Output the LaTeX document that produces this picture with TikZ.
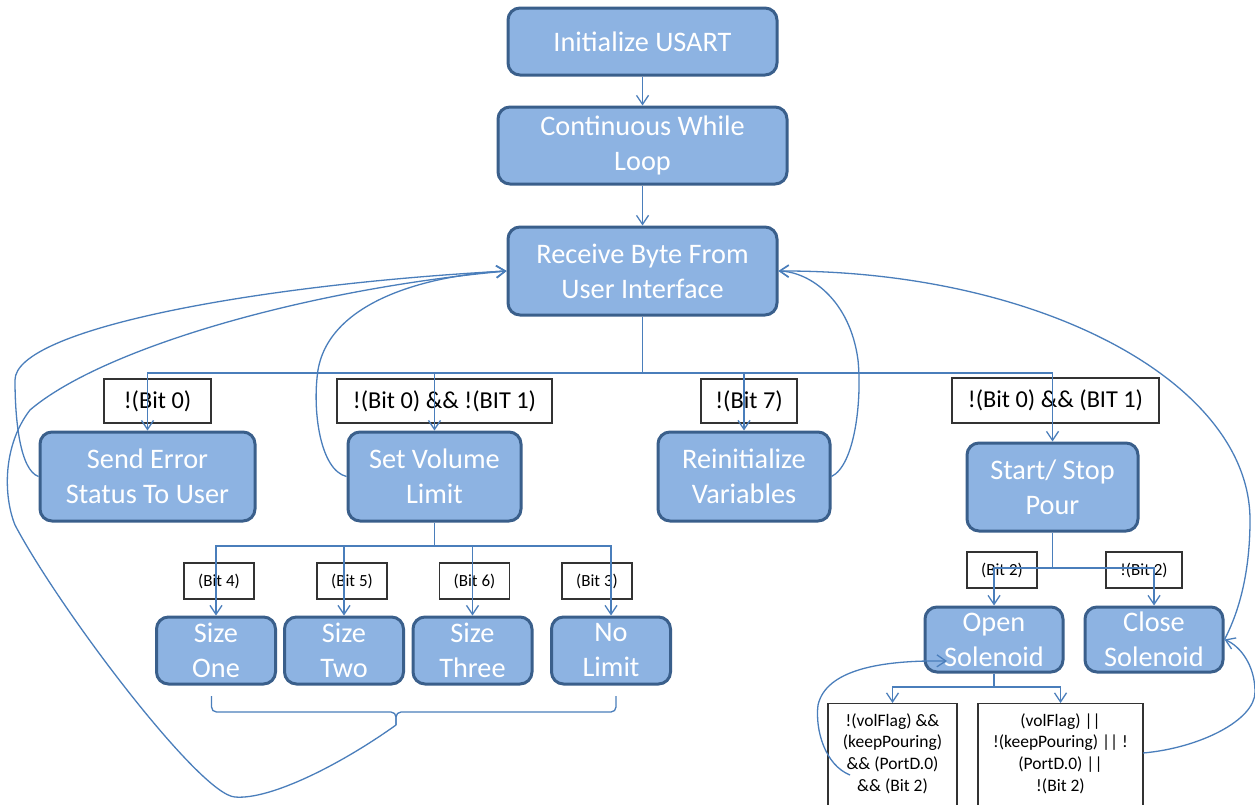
\documentclass[tikz,border=0pt]{standalone}
\usepackage{fontspec}
\setmainfont{Carlito}
\usetikzlibrary{arrows.meta,calc}
\definecolor{boxfill}{HTML}{8DB3E2}
\definecolor{boxline}{HTML}{3A5F8B}
\definecolor{connc}{HTML}{4A7EBB}
\begin{document}
\begin{tikzpicture}[x=1pt,y=-1pt,
  proc/.style={draw=boxline, line width=3pt, fill=boxfill, rounded corners=12pt, text=white, align=center, inner sep=0pt, font=\fontsize{28.3}{35}\selectfont},
  lab/.style={draw=black!80, line width=1.1pt, fill=white, inner sep=0pt, font=\fontsize{24.3}{28}\selectfont},
  slab/.style={lab, font=\fontsize{17}{20}\selectfont},
  cbox/.style={draw=black!80, line width=1.1pt, fill=white, inner sep=0pt},
  ctext/.style={align=center, inner sep=0pt, font=\fontsize{17.5}{21.7}\selectfont},
  wire/.style={draw=connc, line width=1.3pt},
  arr/.style={wire, -{Straight Barb[length=9pt,width=12pt]}},
]
\useasboundingbox (0,0) rectangle (1255,804);
\clip (0,0) rectangle (1255,804);
\fill[white] (0,0) rectangle (1255,804);

% main process nodes
\node[proc, minimum width=269, minimum height=67] (init) at (642.5,41.5) {Initialize USART};
\node[proc, minimum width=289, minimum height=77] (loop) at (642.5,145.5) {Continuous While\\Loop};
\node[proc, minimum width=269, minimum height=88] (rb) at (642.5,271) {Receive Byte From\\User Interface};
\node[proc, minimum width=215, minimum height=89] (se) at (147.5,476.5) {Send Error\\Status To User};
\node[proc, minimum width=173, minimum height=89] (sv) at (434.5,476.5) {Set Volume\\Limit};
\node[proc, minimum width=172, minimum height=89] (ri) at (744,476.5) {Reinitialize\\Variables};
\node[proc, minimum width=171, minimum height=88] (ssp) at (1052.5,487) {Start/ Stop\\Pour};
\node[proc, minimum width=119, minimum height=67] (s1) at (216,650.5) {Size\\One};
\node[proc, minimum width=119, minimum height=67] (s2) at (344,650.5) {Size\\Two};
\node[proc, minimum width=119, minimum height=67] (s3) at (472.5,650.5) {Size\\Three};
\node[proc, minimum width=119, minimum height=67] (s4) at (611,650.5) {No\\Limit};
\node[proc, minimum width=138, minimum height=65] (os) at (994,639.5) {Open\\Solenoid};
\node[proc, minimum width=138, minimum height=65] (cs) at (1154,639.5) {Close\\Solenoid};

% condition labels
\node[lab, minimum width=107, minimum height=44] (l1) at (157.5,401) {!(Bit 0)};
\node[lab, minimum width=215, minimum height=44] (l2) at (444.5,401) {!(Bit 0) \&\& !(BIT 1)};
\node[lab, minimum width=96, minimum height=44] (l3) at (749,401) {!(Bit 7)};
\node[lab, minimum width=207, minimum height=45] (l4) at (1055.5,400.5) {!(Bit 0) \&\& (BIT 1)};
\node[slab, minimum width=70, minimum height=36] (b4) at (219,581) {(Bit 4)};
\node[slab, minimum width=70, minimum height=36] (b5) at (352,581) {(Bit 5)};
\node[slab, minimum width=70, minimum height=36] (b6) at (474.5,581) {(Bit 6)};
\node[slab, minimum width=70, minimum height=36] (b3) at (597,581) {(Bit 3)};
\node[slab, minimum width=70, minimum height=36] (b2) at (1002,570) {(Bit 2)};
\node[slab, minimum width=76, minimum height=36] (nb2) at (1144,570) {!(Bit 2)};

% bottom condition boxes
\node[cbox, minimum width=129, minimum height=115, anchor=north] (c1) at (892.5,703) {};
\node[ctext, anchor=north] (c1t) at (892.5,713) {!(volFlag) \&\&\\(keepPouring)\\\&\& (PortD.0)\\\&\& (Bit 2)};
\node[cbox, minimum width=165, minimum height=115, anchor=north] (c2) at (1060.5,703) {};
\node[ctext, anchor=north] (c2t) at (1060.5,713) {(volFlag) ||\\!(keepPouring) || !\\(PortD.0) ||\\!(Bit 2)};

% straight connectors
\draw[arr] (init) -- (loop);
\draw[arr] (loop) -- (rb);
\coordinate (j1) at (642.5,373);
\draw[wire] (rb.south) -- (j1);
\draw[arr] (j1) -| (se.north);
\draw[arr] (j1) -| (sv.north);
\draw[arr] (j1) -| (ri.north);
\draw[arr] (j1) -| (ssp.north);

\coordinate (j2) at (434.5,546);
\draw[wire] (sv.south) -- (j2);
\draw[arr] (j2) -| (s1.north);
\draw[arr] (j2) -| (s2.north);
\draw[arr] (j2) -| (s3.north);
\draw[arr] (j2) -| (s4.north);

\coordinate (j3) at (1052.5,568);
\draw[wire] (ssp.south) -- (j3);
\draw[arr] (j3) -| (os.north);
\draw[arr] (j3) -| (cs.north);

\coordinate (j4) at (994,687);
\draw[wire] (os.south) -- (j4);
\draw[arr] (j4) -| (c1.north);
\draw[arr] (j4) -| (c2.north);

% brace under size boxes
\coordinate (btip) at (396,725);
\draw[wire, rounded corners=5pt] (211.5,696) |- (396,712) -- (btip);
\draw[wire, rounded corners=5pt] (616,696) |- (396,712) -- (btip);

% curved return connectors
\draw[arr] (se.west) .. controls (20,470) and (15,420) .. (15,380)
  .. controls (15,330) and (250,285) .. (rb.west);
\draw[arr] (sv.west) .. controls (320,470) and (312,410) .. (318,370)
  .. controls (330,300) and (430,275) .. (rb.west);
\draw[arr] (btip) .. controls (340,765) and (270,800) .. (235,797)
  .. controls (200,795) and (60,610) .. (15,525)
  .. controls (3,495) and (3,445) .. (30,410)
  .. controls (100,350) and (300,290) .. (rb.west);
\draw[arr] (ri.east) .. controls (855,465) and (862,400) .. (858,360)
  .. controls (850,300) and (810,272) .. (rb.east);
\draw[arr] (cs.east) .. controls (1240,610) and (1250,570) .. (1250,520)
  .. controls (1250,382) and (1039,270) .. (rb.east);
\coordinate (c2r) at (1143,753);
\draw[arr] (c2r) .. controls (1200,748) and (1255,720) .. (1255,692)
  .. controls (1255,665) and (1240,646) .. (cs.east);
\coordinate (c1l) at (850,775);
\coordinate (osin) at (947,661);
\draw[arr] (c1l) .. controls (825,765) and (815,730) .. (818,705)
  .. controls (826,670) and (880,660) .. (osin);
\end{tikzpicture}
\end{document}
